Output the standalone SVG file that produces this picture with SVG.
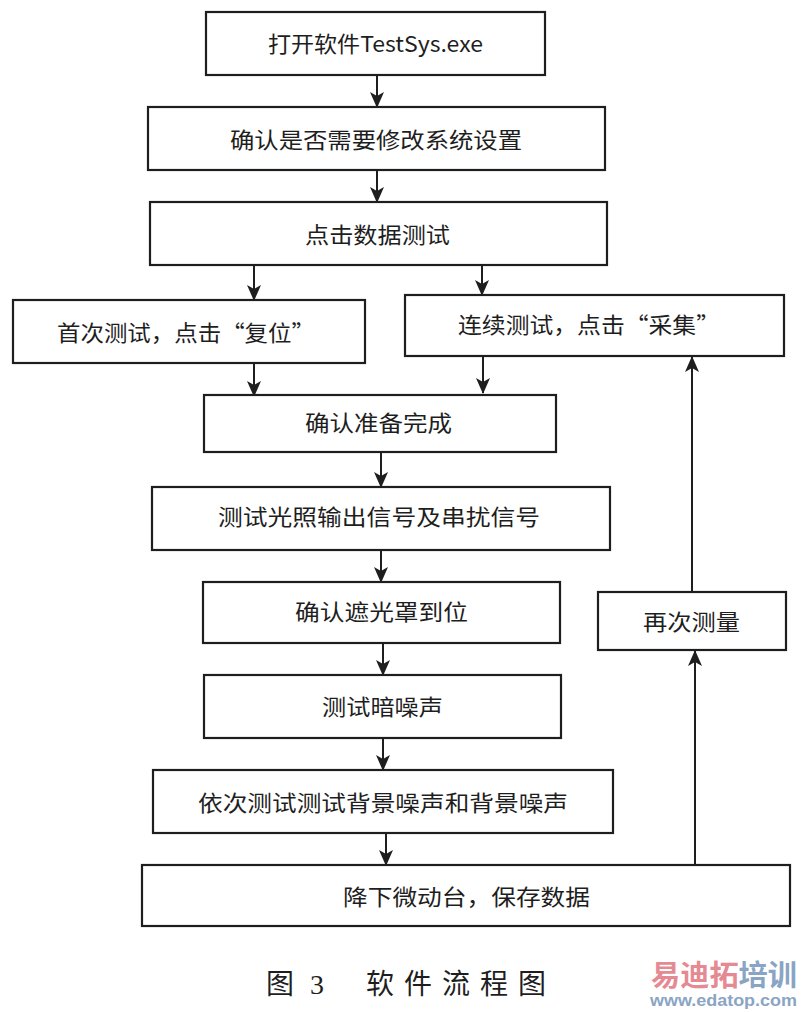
<svg xmlns="http://www.w3.org/2000/svg" width="803" height="1012" viewBox="0 0 803 1012">
<style>
.box{fill:#ffffff;stroke:#1e1e1e;stroke-width:2.2}
.lbl{font-family:"Noto Sans CJK SC","Noto Sans",sans-serif;font-size:22px;fill:#1e1e1e;text-anchor:start}
.con{stroke:#1e1e1e;stroke-width:2;fill:none}
.cap{font-family:"Noto Sans CJK SC",sans-serif;font-size:28px;fill:#1e1e1e}
</style>
<defs>
<marker id="ah" markerUnits="userSpaceOnUse" markerWidth="16" markerHeight="14" refX="15" refY="7" orient="auto">
<path d="M0,0 L16,7 L0,14 L4,7 z" fill="#1e1e1e"/>
</marker>
</defs>
<rect width="803" height="1012" fill="#ffffff"/>
<g id="connectors">
<line class="con" x1="377" y1="75" x2="377" y2="107" marker-end="url(#ah)"/>
<line class="con" x1="377" y1="170" x2="377" y2="202" marker-end="url(#ah)"/>
<line class="con" x1="254" y1="265" x2="254" y2="300" marker-end="url(#ah)"/>
<line class="con" x1="482" y1="265" x2="482" y2="295" marker-end="url(#ah)"/>
<line class="con" x1="254" y1="363" x2="254" y2="396" marker-end="url(#ah)"/>
<line class="con" x1="483" y1="356" x2="483" y2="393" marker-end="url(#ah)"/>
<line class="con" x1="381" y1="452" x2="381" y2="487" marker-end="url(#ah)"/>
<line class="con" x1="381" y1="550" x2="381" y2="582" marker-end="url(#ah)"/>
<line class="con" x1="383" y1="643" x2="383" y2="675" marker-end="url(#ah)"/>
<line class="con" x1="383" y1="738" x2="383" y2="770" marker-end="url(#ah)"/>
<line class="con" x1="386" y1="833" x2="386" y2="865" marker-end="url(#ah)"/>
<line class="con" x1="695" y1="865" x2="695" y2="651" marker-end="url(#ah)"/>
<line class="con" x1="692" y1="592" x2="692" y2="357" marker-end="url(#ah)"/>
</g>
<g id="n1"><rect class="box" x="206" y="12" width="339" height="63"/><text class="lbl" x="268" y="52" textLength="215" lengthAdjust="spacingAndGlyphs">打开软件TestSys.exe</text></g>
<g id="n2"><rect class="box" x="148" y="107" width="457" height="63"/><text class="lbl" x="230" y="148" textLength="292" lengthAdjust="spacingAndGlyphs">确认是否需要修改系统设置</text></g>
<g id="n3"><rect class="box" x="150" y="202" width="457" height="63"/><text class="lbl" x="305" y="243" textLength="145" lengthAdjust="spacingAndGlyphs">点击数据测试</text></g>
<g id="n4"><rect class="box" x="13" y="300" width="352" height="63"/><text class="lbl" x="57" y="341" textLength="258" lengthAdjust="spacingAndGlyphs">首次测试，点击“复位”</text></g>
<g id="n5"><rect class="box" x="405" y="295" width="379" height="61"/><text class="lbl" x="458" y="333" textLength="262" lengthAdjust="spacingAndGlyphs">连续测试，点击“采集”</text></g>
<g id="n6"><rect class="box" x="204" y="395" width="352" height="57"/><text class="lbl" x="305" y="431" textLength="147" lengthAdjust="spacingAndGlyphs">确认准备完成</text></g>
<g id="n7"><rect class="box" x="152" y="487" width="458" height="63"/><text class="lbl" x="218" y="525" textLength="322" lengthAdjust="spacingAndGlyphs">测试光照输出信号及串扰信号</text></g>
<g id="n8"><rect class="box" x="203" y="582" width="357" height="61"/><text class="lbl" x="295" y="620" textLength="173" lengthAdjust="spacingAndGlyphs">确认遮光罩到位</text></g>
<g id="n9"><rect class="box" x="204" y="675" width="357" height="63"/><text class="lbl" x="322" y="715" textLength="121" lengthAdjust="spacingAndGlyphs">测试暗噪声</text></g>
<g id="n10"><rect class="box" x="153" y="770" width="460" height="63"/><text class="lbl" x="198" y="811" textLength="370" lengthAdjust="spacingAndGlyphs">依次测试测试背景噪声和背景噪声</text></g>
<g id="n11"><rect class="box" x="142" y="865" width="648" height="61"/><text class="lbl" x="343" y="905" textLength="247" lengthAdjust="spacingAndGlyphs">降下微动台，保存数据</text></g>
<g id="n12"><rect class="box" x="598" y="592" width="188" height="58"/><text class="lbl" x="643" y="630" textLength="97" lengthAdjust="spacingAndGlyphs">再次测量</text></g>
<g id="caption">
<text class="cap" y="994"><tspan x="266">图</tspan><tspan x="310" font-family="Liberation Serif">3</tspan><tspan x="366" textLength="180" lengthAdjust="spacing">软件流程图</tspan></text>
</g>
<g id="watermark">
<text x="651" y="986" font-family="Noto Sans CJK SC,sans-serif" font-weight="bold" font-size="29" textLength="146" lengthAdjust="spacingAndGlyphs"><tspan fill="#e58a93">易迪拓</tspan><tspan fill="#8aa5c4">培训</tspan></text>
<text x="650" y="1006" font-family="Liberation Sans,sans-serif" font-weight="bold" font-size="17" fill="#8aa5c4" textLength="147" lengthAdjust="spacingAndGlyphs">www.edatop.com</text>
</g>
</svg>
